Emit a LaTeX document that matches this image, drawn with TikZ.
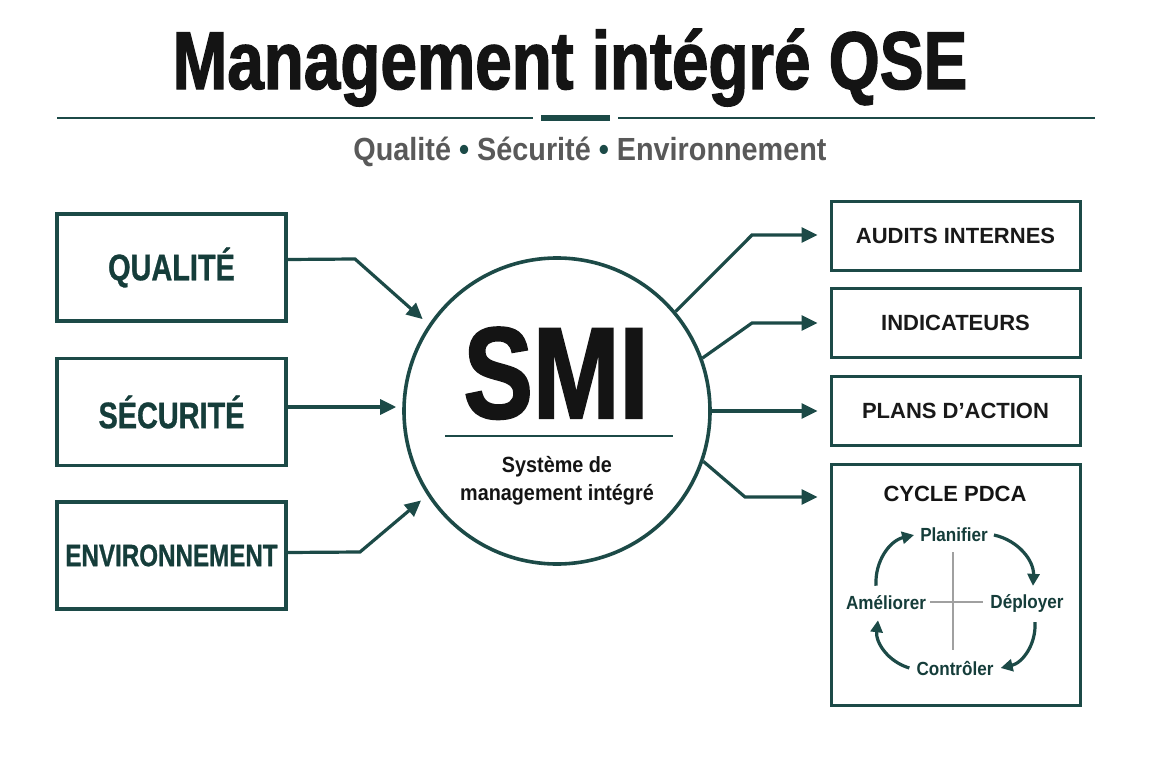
\documentclass[tikz,border=0pt]{standalone}
\usepackage{fontspec}
\setmainfont{Liberation Sans}
\newfontfamily\condA{Liberation Sans Bold}[FakeStretch=0.78, FakeBold=0.8]
\newfontfamily\condT{Liberation Sans Bold}[FakeStretch=0.8, FakeBold=1.6]
\newfontfamily\condB{Liberation Sans Bold}[FakeStretch=0.9]
\usetikzlibrary{arrows.meta}
\definecolor{qteal}{HTML}{1C4A47}
\definecolor{qtext}{HTML}{153D3A}
\definecolor{qgray}{HTML}{595959}
\definecolor{qcross}{HTML}{A0A0A0}
\begin{document}
\begin{tikzpicture}[x=1pt,y=-1pt,
  lbox/.style={draw=qteal, line width=3.2pt, minimum width=229pt, minimum height=107pt, inner sep=0pt, text=qtext},
  rbox/.style={draw=qteal, line width=3pt, minimum width=249pt, minimum height=69pt, inner sep=0pt, text=black!90},
  conn/.style={draw=qteal, line width=3.2pt, -{Triangle[length=16pt,width=15pt]}},
  cyc/.style={draw=qteal, line width=3.2pt, -{Triangle[length=12pt,width=12pt]}},
  lbl/.style={inner sep=0pt, text=qtext, font=\condB\fontsize{19}{19}\selectfont},
  leftfont/.style={font=\condA\fontsize{37}{37}\selectfont},
  rightfont/.style={font=\bfseries\fontsize{22}{22}\selectfont}]
\path[use as bounding box, fill=white] (0,0) rectangle (1152,768);

% title
\node[anchor=base, inner sep=0pt, text=black!92] (title) at (570,89) {\condT\fontsize{82}{82}\selectfont Management intégré QSE};
\draw[qteal, line width=2.4pt] (57,118) -- (533,118);
\draw[qteal, line width=2.4pt] (618,118) -- (1095,118);
\draw[qteal, line width=6pt] (541,118) -- (610,118);
\node[anchor=base, inner sep=0pt, text=qgray] (sub) at (590,160) {\condB\fontsize{32}{32}\selectfont Qualité {\color{qteal}•} Sécurité {\color{qteal}•} Environnement};

% left boxes
\node[lbox, leftfont] (q) at (171.5,267.5) {QUALITÉ};
\node[lbox, leftfont] (s) at (171.5,412) {SÉCURITÉ};
\node[lbox, font=\condA\fontsize{31}{31}\selectfont] (e) at (171.5,555.5) {ENVIRONNEMENT};

% central circle
\node[circle, draw=qteal, line width=3.6pt, minimum size=306pt, inner sep=0pt] (smi) at (557,411) {};
\node[anchor=base, inner sep=0pt, text=black!92] (smitxt) at (556,418) {\condT\fontsize{130}{130}\selectfont SMI};
\draw[qteal, line width=2.6pt] (445,436) -- (673,436);
\node[align=center, inner sep=0pt, text=black!92, font=\condB\fontsize{22}{28}\selectfont] (smisub) at (557,481) {Système de\\management intégré};

% right boxes
\node[rbox, rightfont] (a) at (955.5,235.5) {AUDITS INTERNES};
\node[rbox, rightfont] (i) at (955.5,322.5) {INDICATEURS};
\node[rbox, rightfont] (p) at (955.5,410.5) {PLANS D’ACTION};
\node[draw=qteal, line width=3pt, minimum width=249pt, minimum height=241pt, inner sep=0pt] (c) at (955.5,584.5) {};

% left connectors
\coordinate (kq) at (355,259);
\coordinate (ke) at (360,552);
\draw[conn, shorten >=8pt] ([yshift=8pt]q.east) -- (kq) -- (smi.146);
\draw[conn, shorten >=6pt] ([yshift=5pt]s.east) -- ([yshift=5pt]s.east -| smi.west);
\draw[conn, shorten >=8pt] ([yshift=3pt]e.east) -- (ke) -- (smi.213);

% right connectors
\coordinate (ka) at (752,235);
\coordinate (ki) at (752,323);
\coordinate (kc) at (745,497);
\draw[conn, shorten >=12pt] (smi.40) -- (ka) -- (ka -| a.west);
\draw[conn, shorten >=12pt] (smi.20) -- (ki) -- (ki -| i.west);
\draw[conn, shorten >=12pt] (smi.east) -- (smi.east -| p.west);
\draw[conn, shorten >=12pt] (smi.341) -- (kc) -- (kc -| c.west);

% PDCA
\node[anchor=base, inner sep=0pt, text=black!92, font=\bfseries\fontsize{22}{22}\selectfont] (ct) at (955,501) {CYCLE PDCA};
\draw[qcross, line width=1.4pt] (953,552) -- (953,650);
\draw[qcross, line width=1.4pt] (930,602) -- (983,602);
\node[lbl] (pl) at (954,535) {Planifier};
\node[lbl] (de) at (1027,603) {Déployer};
\node[lbl] (co) at (955,668) {Contrôler};
\node[lbl] (am) at (886,603) {Améliorer};
\draw[cyc] ([xshift=6pt]pl.east) to[bend left=40] ([xshift=6pt,yshift=8pt]de.north);
\draw[cyc] ([xshift=8pt,yshift=-10pt]de.south) to[bend left=40] ([xshift=7pt]co.east);
\draw[cyc] ([xshift=-7pt]co.west) to[bend left=40] ([xshift=-8pt,yshift=-10pt]am.south);
\draw[cyc] ([xshift=-10pt,yshift=10pt]am.north) to[bend left=40] ([xshift=-6pt]pl.west);
\end{tikzpicture}
\end{document}
